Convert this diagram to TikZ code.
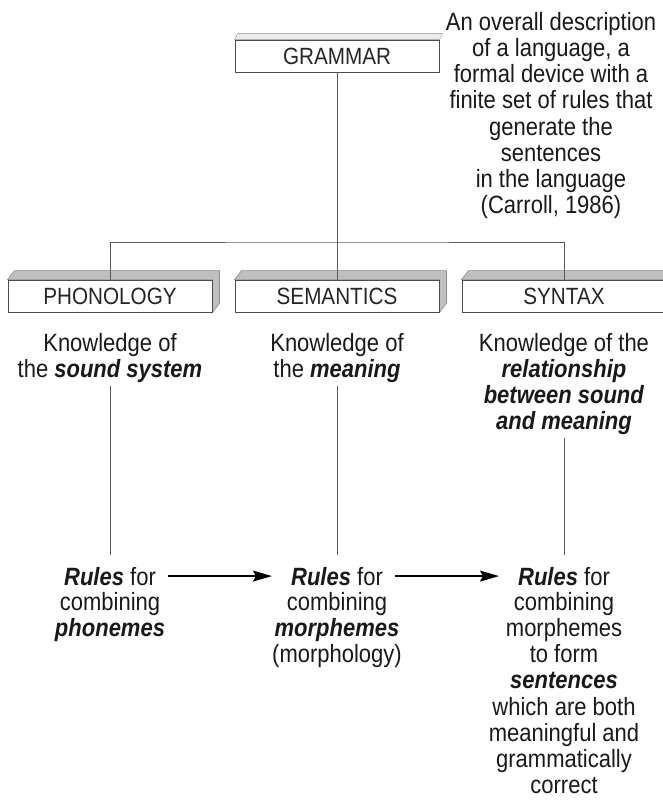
\documentclass[tikz,border=0pt]{standalone}
\usepackage{fontspec}
\setmainfont[FakeStretch=0.88]{Liberation Sans}
\usetikzlibrary{arrows.meta,positioning,backgrounds}

\tikzset{
  box/.style={draw=black!70, fill=white, line width=0.9pt, minimum width=204pt,
    minimum height=32pt, inner sep=0pt, text=black!85,
    font=\fontsize{23.5}{26}\selectfont},
  txt/.style={align=center, inner sep=0pt, text=black!90,
    font=\fontsize{25}{26.2}\selectfont},
  face/.style={fill=black!25, draw=black!45, line width=0.6pt},
  stem/.style={draw=black!65, line width=1pt},
  flow/.style={-{Stealth[length=19pt,width=11pt,inset=3pt]}, line width=1.4pt,
    shorten <=12pt, shorten >=19pt},
}
\newcommand{\bi}[1]{\textbf{\textit{#1}}}

\begin{document}
\begin{tikzpicture}[x=1pt,y=-1pt]
  \useasboundingbox (0,0) rectangle (662,800);
  % Top level
  \node[box] (grammar) at (337,56) {GRAMMAR};
  \node[txt,anchor=north] (gdef) at (551,12) {An overall description\\of a language, a\\formal device with a\\finite set of rules that\\generate the\\sentences\\in the language\\(Carroll, 1986)};
  % Three components
  \foreach \nm/\xx/\lbl in {phon/110/PHONOLOGY, sem/337/SEMANTICS, syn/564/SYNTAX}
    \node[box] (\nm) at (\xx,296) {\lbl};
  \begin{scope}[on background layer]
    \foreach \nm in {phon,sem,syn}
      \filldraw[face] (\nm.north west) -- ++(7,-9) -- ([shift={(7,-9)}]\nm.north east)
        -- ([shift={(7,-9)}]\nm.south east) -- (\nm.south east) -- (\nm.north east) -- cycle;
    \filldraw[face,fill=black!8,draw=black!30] (grammar.north west) -- ++(3,-6)
      -- ([shift={(3,-6)}]grammar.north east) -- (grammar.north east) -- cycle;
  \end{scope}
  \coordinate (hub) at (337,242);
  \draw[stem] (grammar) -- (hub);
  \draw[stem] (phon.north) |- (hub) -| (syn.north);
  \draw[stem] (hub) -- (sem.north);
  % What each one knows
  \node[txt,anchor=north] (k1) at (110,333) {Knowledge of\\the \bi{sound system}};
  \node[txt,anchor=north] (k2) at (337,333) {Knowledge of\\the \bi{meaning}};
  \node[txt,anchor=north] (k3) at (564,333) {Knowledge of the\\\bi{relationship}\\\bi{between sound}\\\bi{and meaning}};
  % Rules
  \node[txt,anchor=base] (r1) at (110,585) {\bi{Rules} for};
  \node[txt,anchor=base] (r2) at (337,585) {\bi{Rules} for};
  \node[txt,anchor=base] (r3) at (564,585) {\bi{Rules} for};
  \node[txt,anchor=north] (c1) at (110,592) {combining\\\bi{phonemes}};
  \node[txt,anchor=north] (c2) at (337,592) {combining\\\bi{morphemes}\\(morphology)};
  \node[txt,anchor=north] (c3) at (564,592) {combining\\morphemes\\to form\\\bi{sentences}\\which are both\\meaningful and\\grammatically\\correct};
  \foreach \i in {1,2,3}
    \draw[stem,shorten <=3pt,shorten >=12pt] (k\i) -- (r\i);
  \draw[flow] (r1) -- (r2);
  \draw[flow] (r2) -- (r3);
\end{tikzpicture}
\end{document}
